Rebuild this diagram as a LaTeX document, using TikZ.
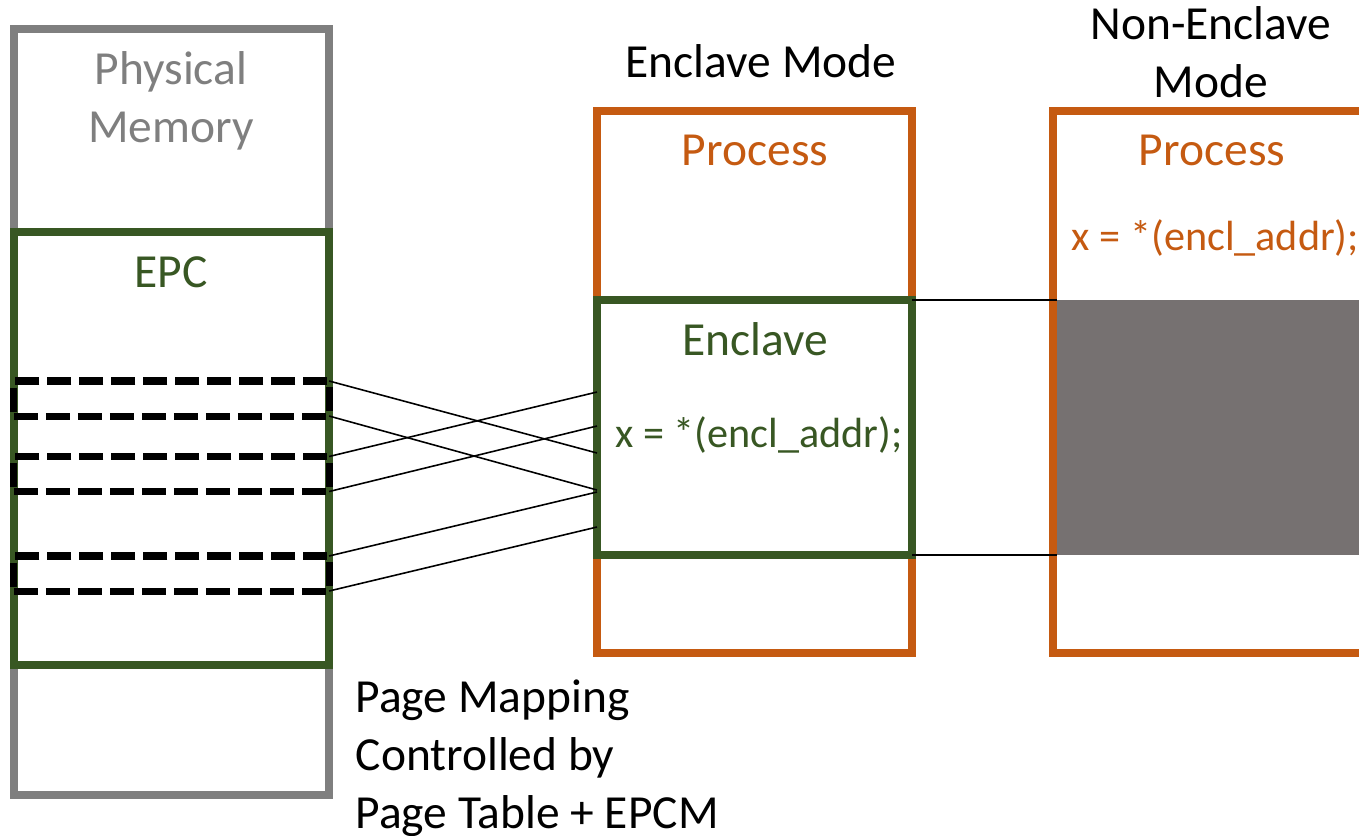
\documentclass[tikz,border=0pt]{standalone}
\usepackage{fontspec}
\setmainfont{Carlito}
\usetikzlibrary{positioning}

\definecolor{memgray}{HTML}{7F7F7F}
\definecolor{epcgreen}{HTML}{385723}
\definecolor{procorange}{HTML}{C55A11}
\definecolor{hidegray}{HTML}{767171}

\tikzset{
  box/.style={draw, line width=2.3pt, inner sep=0pt, outer sep=0pt, fill=white},
  pagebox/.style={draw=black, line width=2pt, dash pattern=on 6.8pt off 2.3pt,
    minimum width=3.15cm, minimum height=0.35cm, inner sep=0pt, outer sep=0pt},
  mapline/.style={line width=0.45pt},
  lbl/.style={font=\fontsize{13.5}{16.4}\selectfont, inner sep=0pt, anchor=base},
  code/.style={lbl, font=\fontsize{12}{14}\selectfont},
}

\begin{document}
\begin{tikzpicture}[x=0.01cm, y=-0.01cm]
  \clip (0,0) rectangle (1359,835);

  % physical memory with the EPC inside
  \node[box, draw=memgray, minimum width=3.15cm, minimum height=7.66cm] (phys) at (171.5,412) {};
  \node[box, draw=epcgreen, minimum width=3.15cm, minimum height=4.33cm] (epc) at (171.5,448.5) {};
  \node[lbl, text=memgray, align=center] (physlbl) at (171,142) {Physical\\Memory};
  \node[lbl, text=epcgreen] (epclbl) at (171,287) {EPC};
  \foreach \i/\y in {1/398.5, 2/474, 3/573.5}
    \node[pagebox] (pg\i) at (171.5,\y) {};

  % enclave mode
  \node[lbl] (enclmode) at (761,77) {Enclave Mode};
  \node[box, draw=procorange, minimum width=3.15cm, minimum height=5.415cm] (proc) at (754.5,381.75) {};
  \node[box, draw=epcgreen, minimum width=3.15cm, minimum height=2.55cm] (encl) at (754.5,427.5) {};
  \node[lbl, text=procorange] (proclbl) at (755,165) {Process};
  \node[lbl, text=epcgreen] (encllbl) at (755,355) {Enclave};
  \node[code, text=epcgreen] (encload) at (759,447) {x = *(encl\_addr);};

  % page mapping
  \foreach \n/\y in {a/392, b/426, c/453, d/490, e/492, f/527}
    \coordinate (in\n) at (597,\y);
  \foreach \p/\t/\b in {1/c/d, 2/a/b, 3/e/f} {
    \draw[mapline] (pg\p.north east) -- (in\t);
    \draw[mapline] (pg\p.south east) -- (in\b);
  }
  \node[lbl, anchor=base west, align=left] (maplbl) at (355,828)
    {Page Mapping\\Controlled by\\Page Table + EPCM};

  % non-enclave mode
  \node[lbl, align=center] (nonmode) at (1211,97) {Non-Enclave\\Mode};
  \node[box, draw=procorange, minimum width=3.2cm, minimum height=5.415cm] (nproc) at (1213,381.75) {};
  \node[fill=hidegray, minimum width=3.2cm, minimum height=2.55cm, inner sep=0pt, outer sep=0pt] (hidden) at (1217,427.5) {};
  \node[lbl, text=procorange] (nproclbl) at (1212,165) {Process};
  \node[code, text=procorange] (nload) at (1215.5,250) {x = *(encl\_addr);};
  \draw[mapline] (encl.north east) -- (hidden.north west);
  \draw[mapline] (encl.south east) -- (hidden.south west);
\end{tikzpicture}
\end{document}
